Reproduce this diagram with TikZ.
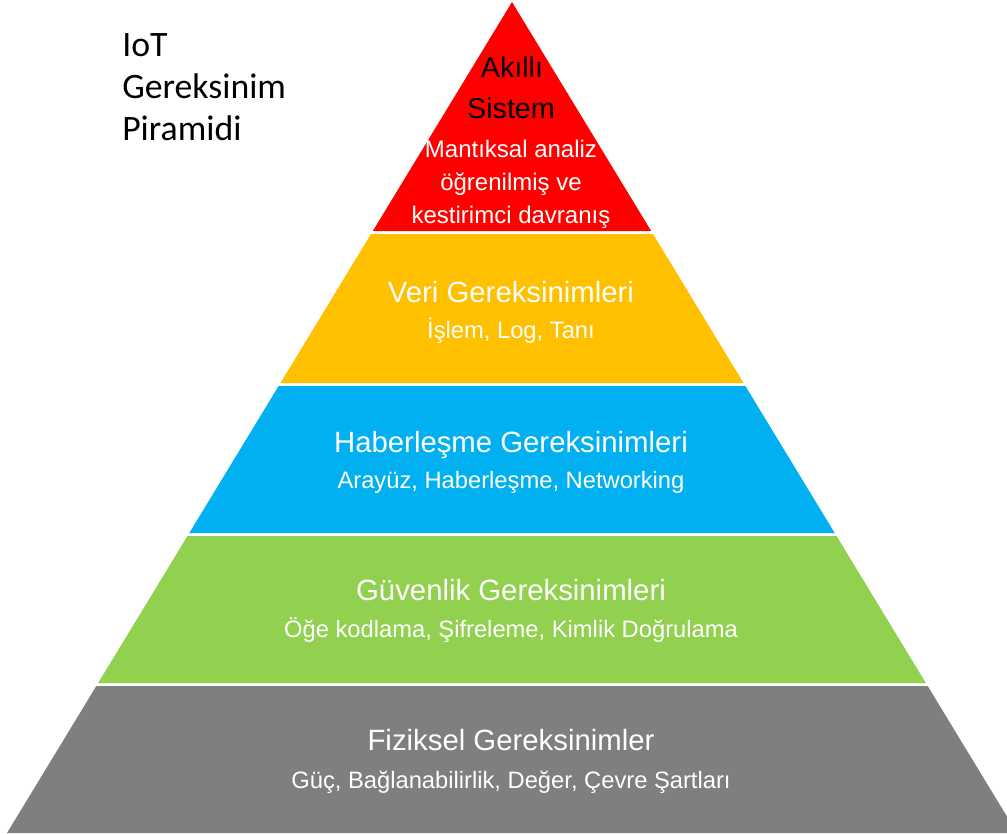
\documentclass[tikz,border=0pt]{standalone}
\usepackage{fontspec}
\setmainfont{Liberation Sans}
\newfontfamily\titlefont{Carlito}
\usetikzlibrary{calc}
\definecolor{redlayer}{HTML}{FF0000}
\definecolor{yellowlayer}{HTML}{FFC000}
\definecolor{bluelayer}{HTML}{00B0F0}
\definecolor{greenlayer}{HTML}{92D050}
\definecolor{graylayer}{HTML}{7F7F7F}
\newcommand{\headsize}{\fontsize{22}{26}\selectfont}
\newcommand{\subsize}{\fontsize{17.8}{21}\selectfont}

\begin{document}
\begin{tikzpicture}[x=0.75pt, y=-0.75pt,
    head/.style={inner sep=0pt, anchor=base, text=white, font=\headsize},
    sub/.style={inner sep=0pt, anchor=base, text=white, font=\subsize}]
        \clip (0, 0) rectangle (1007, 833);
        \fill[white] (0, 0) rectangle (1007, 833);
        \coordinate (T) at (512, 2);
        \coordinate (L) at (7, 833);
        \coordinate (R) at (1017, 833);

        % layers of the pyramid, top to bottom
        \foreach \a/\b/\c in {0/0.2756/redlayer, 0.2792/0.4585/yellowlayer,
                0.4621/0.6390/bluelayer, 0.6426/0.8195/greenlayer, 0.8231/1/graylayer}
            \fill[\c] ($(T)!\a!(L)$) -- ($(T)!\b!(L)$) -- ($(T)!\b!(R)$) -- ($(T)!\a!(R)$) -- cycle;

        % title
        \node[inner sep=0pt, anchor=north west, align=left,
            font=\titlefont\fontsize{26.8}{31.6}\selectfont] (title) at (122, 33)
            {IoT\\Gereksinim\\Piramidi};

        % top layer
        \node[head, text=black, font=\fontsize{21.5}{26}\selectfont] (akilli) at (512, 77) {Akıllı};
        \node[head, text=black, font=\fontsize{21.5}{26}\selectfont] (sistem) at (511, 118) {Sistem};
        \node[sub, font=\fontsize{18}{21}\selectfont] (mantiksal) at (511, 157) {Mantıksal analiz};
        \node[sub, font=\fontsize{18}{21}\selectfont] (ogrenilmis) at (511, 190) {öğrenilmiş ve};
        \node[sub, font=\fontsize{18}{21}\selectfont] (kestirimci) at (511, 223) {kestirimci davranış};

        \node[head] (veri) at (511, 302) {Veri Gereksinimleri};
        \node[sub] (islem) at (511, 338) {İşlem, Log, Tanı};

        \node[head] (haber) at (511, 452) {Haberleşme Gereksinimleri};
        \node[sub] (arayuz) at (511, 488) {Arayüz, Haberleşme, Networking};

        \node[head] (guvenlik) at (511, 600) {Güvenlik Gereksinimleri};
        \node[sub] (oge) at (511, 637) {Öğe kodlama, Şifreleme, Kimlik Doğrulama};

        \node[head] (fiziksel) at (511, 750) {Fiziksel Gereksinimler};
        \node[sub] (guc) at (511, 788) {Güç, Bağlanabilirlik, Değer, Çevre Şartları};
\end{tikzpicture}
\end{document}
